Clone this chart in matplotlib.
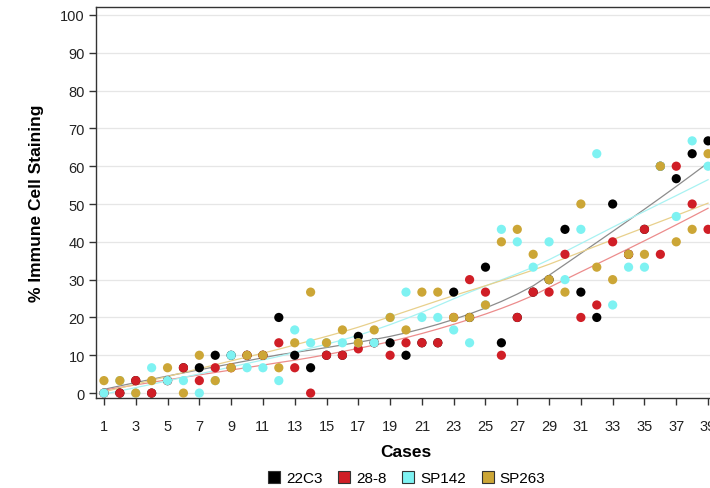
import numpy as np
import matplotlib
matplotlib.use("Agg")
import matplotlib.pyplot as plt
from matplotlib.lines import Line2D

plt.rcParams['font.family'] = ['Liberation Sans', 'DejaVu Sans']

cases = np.arange(1, 40)
s22c3 = [0, 0, 3.3, 0, 3.3, 6.7, 6.7, 10, 10, 10,
         10, 20, 10, 6.7, 10, 10, 15, 13.3, 13.3, 10,
         13.3, 13.3, 26.7, 20, 33.3, 13.3, 20, 26.7, 30, 43.3,
         26.7, 20, 50, 36.7, 43.3, 60, 56.7, 63.3, 66.7]
s28_8 = [0, 0, 3.3, 0, 3.3, 6.7, 3.3, 6.7, 6.7, 10,
         10, 13.3, 6.7, 0, 10, 10, 11.7, 13.3, 10, 13.3,
         13.3, 13.3, 20, 30, 26.7, 10, 20, 26.7, 26.7, 36.7,
         20, 23.3, 40, 36.7, 43.3, 36.7, 60, 50, 43.3]
sp142 = [0, 3.3, 0, 6.7, 3.3, 3.3, 0, 3.3, 10, 6.7,
         6.7, 3.3, 16.7, 13.3, 13.3, 13.3, 13.3, 13.3, 20, 26.7,
         20, 20, 16.7, 13.3, 23.3, 43.3, 40, 33.3, 40, 30,
         43.3, 63.3, 23.3, 33.3, 33.3, 60, 46.7, 66.7, 60]
sp263 = [3.3, 3.3, 0, 3.3, 6.7, 0, 10, 3.3, 6.7, 10,
         10, 6.7, 13.3, 26.7, 13.3, 16.7, 13.3, 16.7, 20, 16.7,
         26.7, 26.7, 20, 20, 23.3, 40, 43.3, 36.7, 30, 26.7,
         50, 33.3, 30, 36.7, 36.7, 60, 40, 43.3, 63.3]

series_names = ['22C3', '28-8', 'SP142', 'SP263']
series_values = [s22c3, s28_8, sp142, sp263]
colors = ['#000000', '#D01E26', '#7EF2F2', '#CCA636']
line_colors = ['#8C8C8C', '#EC8C8C', '#A8F2F2', '#E8D08C']


def lowess(x, y, frac=0.6):
    x = np.asarray(x, float)
    y = np.asarray(y, float)
    n = len(x)
    k = int(np.ceil(frac * n))
    fitted = np.empty(n)
    for i, x0 in enumerate(x):
        d = np.abs(x - x0)
        h = np.sort(d)[k - 1]
        w = np.clip(1 - (d / h) ** 3, 0, None) ** 3
        W = np.sum(w)
        xm = np.sum(w * x) / W
        ym = np.sum(w * y) / W
        b = np.sum(w * (x - xm) * (y - ym)) / np.sum(w * (x - xm) ** 2)
        fitted[i] = ym + b * (x0 - xm)
    return fitted


fig = plt.figure(figsize=(7.10, 4.89), dpi=100)
ax = fig.add_axes([96 / 710, 90 / 489, 620 / 710, 391 / 489])

for vals, lc in zip(series_values, line_colors):
    ax.plot(cases, lowess(cases, vals), color=lc, lw=0.9, zorder=2)

for vals, c in zip(series_values, colors):
    ax.scatter(cases, vals, s=44, color=c, edgecolors='none', zorder=3)

ax.set_xlim(0.5, 39.5)
ax.set_ylim(-1.3, 102.1)
ax.set_xticks(np.arange(1, 40, 2))
ax.set_yticks(np.arange(0, 101, 10))
ax.yaxis.grid(True, color='#E6E6E6', lw=0.9, zorder=0)
ax.set_axisbelow(True)
for sp in ax.spines.values():
    sp.set_color('#333333')
    sp.set_linewidth(1.0)
ax.tick_params(axis='both', direction='out', length=5, width=1.0,
               color='#333333', labelsize=10.5, labelcolor='#222222')
ax.tick_params(axis='y', pad=3)
ax.tick_params(axis='x', pad=10)
ax.set_xlabel('Cases', fontsize=12.5, fontweight='bold', labelpad=8)
ax.set_ylabel('% Immune Cell Staining', fontsize=12.5, fontweight='bold', labelpad=12)

handles = [Line2D([], [], marker='s', linestyle='none', markersize=9,
                  markerfacecolor=c, markeredgecolor='#333333', markeredgewidth=0.8)
           for c in colors]
fig.legend(handles, series_names, loc='center', bbox_to_anchor=(406 / 710, 1 - 479 / 489),
           ncol=4, frameon=False, fontsize=11, handletextpad=0.3, columnspacing=0.9,
           handlelength=1.0)

fig.savefig('out.png', dpi=100)
